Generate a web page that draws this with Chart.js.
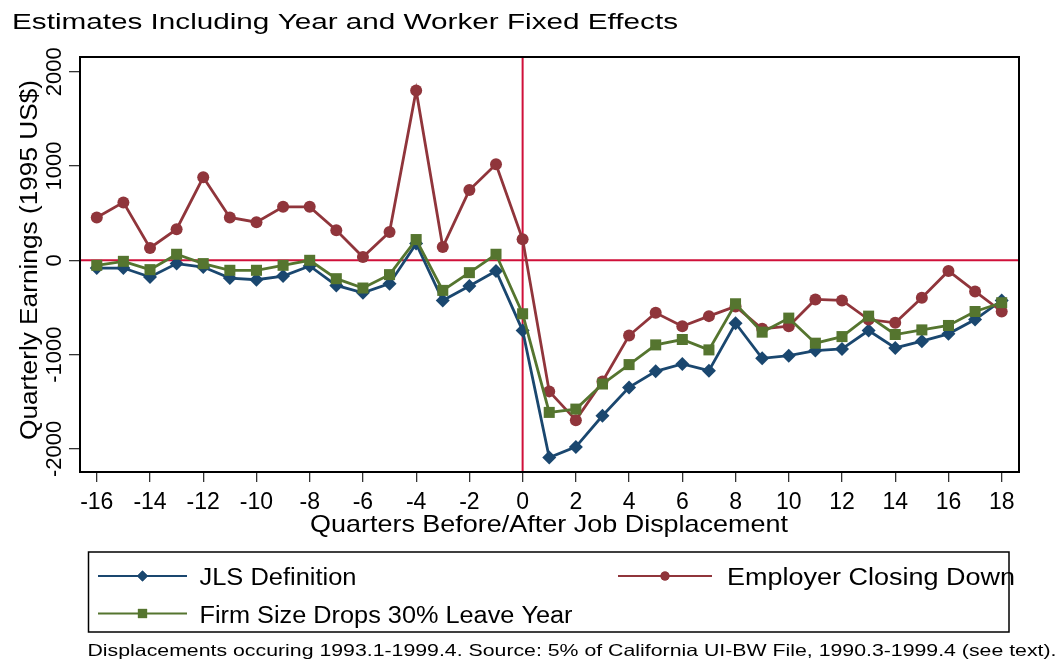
<!DOCTYPE html>
<html>
<head>
<meta charset="utf-8">
<script src="https://cdn.jsdelivr.net/npm/chart.js@4"></script>
<style>
  body { margin: 0; background: #fff; }
  #wrap { width: 1059px; height: 669px; }
</style>
</head>
<body>
<div id="wrap"><canvas id="chartCanvas" width="1059" height="669"></canvas></div>
<script>
const quarters = [-16, -15, -14, -13, -12, -11, -10, -9, -8, -7, -6, -5, -4, -3, -2, -1, 0,
                  1, 2, 3, 4, 5, 6, 7, 8, 9, 10, 11, 12, 13, 14, 15, 16, 17, 18];

const jls = [-82, -82, -177, -35, -71, -188, -206, -167, -60, -266, -344, -248, 177, -426, -273, -113, -745,
             -2092, -1979, -1649, -1348, -1177, -1099, -1170, -667, -1039, -1011, -957, -940, -745, -929, -858, -780, -628, -426];

const closing = [454, 614, 131, 330, 880, 454, 404, 567, 567, 319, 35, 301, 1801, 141, 745, 1018, 223,
                 -1390, -1695, -1284, -798, -557, -699, -592, -489, -727, -699, -415, -426, -628, -663, -397, -113, -330, -543];

const firmSize = [-53, -11, -99, 64, -35, -106, -106, -53, 0, -195, -294, -152, 220, -319, -131, 64, -567,
                  -1613, -1578, -1312, -1106, -897, -840, -950, -461, -762, -613, -879, -809, -592, -787, -738, -691, -543, -450];

const xTicks = [-16, -14, -12, -10, -8, -6, -4, -2, 0, 2, 4, 6, 8, 10, 12, 14, 16, 18];
const yTicks = [-2000, -1000, 0, 1000, 2000];

const titleText = "Estimates Including Year and Worker Fixed Effects";
const yTitle = "Quarterly Earnings (1995 US$)";
const xTitle = "Quarters Before/After Job Displacement";
const footText = "Displacements occuring 1993.1-1999.4. Source: 5% of California UI-BW File, 1990.3-1999.4 (see text).";

const BLUE = "#1a476f", RED = "#90353b", GREEN = "#55752f", REF = "#d0103a";
const FONT = '"Liberation Sans", Arial, sans-serif';

function pts(vals) {
    return quarters.map((q, i) => ({ x: q, y: vals[i] }));
}

// draw text at a given size, stretched/squeezed to a given width
function fitText(ctx, text, x, y, size, width) {
    ctx.font = size + "px " + FONT;
    const w0 = ctx.measureText(text).width;
    ctx.save();
    ctx.translate(x, y);
    ctx.scale(width / w0, 1);
    ctx.textAlign = "left";
    ctx.textBaseline = "alphabetic";
    ctx.fillText(text, 0, 0);
    ctx.restore();
}

function legendSample(ctx, x0, x1, y, color, style, r) {
    ctx.save();
    ctx.strokeStyle = color;
    ctx.lineWidth = 2;
    ctx.beginPath();
    ctx.moveTo(x0, y);
    ctx.lineTo(x1, y);
    ctx.stroke();
    ctx.fillStyle = color;
    Chart.helpers.drawPoint(ctx, { pointStyle: style, radius: r, rotation: 0, borderWidth: 0 }, (x0 + x1) / 2, y);
    ctx.fill();
    ctx.restore();
}

const decor = {
    id: "decor",
    beforeDatasetsDraw(chart) {
        const { ctx, chartArea: a, scales: { x, y } } = chart;
        ctx.save();
        ctx.strokeStyle = REF;
        ctx.lineWidth = 2;
        const y0 = y.getPixelForValue(0);
        const x0 = x.getPixelForValue(0);
        ctx.beginPath();
        ctx.moveTo(a.left, y0); ctx.lineTo(a.right, y0);
        ctx.moveTo(x0, a.top); ctx.lineTo(x0, a.bottom);
        ctx.stroke();
        ctx.restore();
    },
    afterDraw(chart) {
        const { ctx, chartArea: a, scales: { y } } = chart;
        ctx.save();
        // plot box
        ctx.strokeStyle = "#000";
        ctx.lineWidth = 2;
        ctx.strokeRect(a.left, a.top, a.right - a.left, a.bottom - a.top);

        ctx.fillStyle = "#000";
        // y tick labels, rotated
        ctx.font = "22px " + FONT;
        y.ticks.forEach(t => {
            const py = y.getPixelForValue(t.value);
            ctx.save();
            ctx.translate(61, py);
            ctx.rotate(-Math.PI / 2);
            ctx.textAlign = "center";
            ctx.textBaseline = "alphabetic";
            ctx.fillText(String(t.value), 0, 0);
            ctx.restore();
        });

        // titles
        fitText(ctx, titleText, 12, 28.5, 22.5, 666);
        fitText(ctx, xTitle, 310, 531.5, 24, 478);
        ctx.save();
        ctx.translate(37, 440);
        ctx.rotate(-Math.PI / 2);
        fitText(ctx, yTitle, 0, 0, 23.5, 360);
        ctx.restore();

        // legend
        ctx.strokeStyle = "#000";
        ctx.lineWidth = 1.5;
        ctx.strokeRect(88.5, 552, 920.5, 80);
        legendSample(ctx, 98, 187, 576, BLUE, "rectRot", 5.5);
        legendSample(ctx, 618, 712, 576, RED, "circle", 4.5);
        legendSample(ctx, 98, 187, 613.5, GREEN, "rect", 6.5);
        ctx.fillStyle = "#000";
        fitText(ctx, "JLS Definition", 199.5, 584.5, 23.5, 157);
        fitText(ctx, "Employer Closing Down", 727, 584.5, 23.5, 288);
        fitText(ctx, "Firm Size Drops 30% Leave Year", 199.5, 622.5, 23.5, 373);

        // note
        fitText(ctx, footText, 87.5, 655.5, 16.5, 969);
        ctx.restore();
    }
};

const ds = (label, vals, color, style, r, order) => ({
    label,
    data: pts(vals),
    borderColor: color,
    backgroundColor: color,
    pointBackgroundColor: color,
    pointBorderColor: color,
    pointBorderWidth: 0,
    pointStyle: style,
    pointRadius: r,
    pointHoverRadius: r,
    borderWidth: 2.8,
    tension: 0,
    order
});

new Chart(document.getElementById("chartCanvas"), {
    type: "line",
    data: {
        datasets: [
            ds("JLS Definition", jls, BLUE, "rectRot", 7, 3),
            ds("Employer Closing Down", closing, RED, "circle", 6, 2),
            ds("Firm Size Drops 30% Leave Year", firmSize, GREEN, "rect", 7.8, 1)
        ]
    },
    options: {
        responsive: false,
        animation: false,
        devicePixelRatio: 1,
        layout: { padding: { top: 57, right: 40, left: 0, bottom: 0 } },
        plugins: {
            legend: { display: false },
            tooltip: { enabled: false }
        },
        scales: {
            x: {
                type: "linear",
                min: -16.63,
                max: 18.65,
                afterBuildTicks: s => { s.ticks = xTicks.map(v => ({ value: v })); },
                afterFit: s => { s.height = 197; },
                ticks: {
                    color: "#000",
                    font: { family: FONT, size: 23 },
                    padding: 7,
                    maxRotation: 0,
                    autoSkip: false,
                    callback: v => String(v)
                },
                grid: { drawOnChartArea: false, drawTicks: true, tickLength: 10, color: "#333", lineWidth: 1.3 },
                border: { display: false }
            },
            y: {
                min: -2245,
                max: 2156,
                afterBuildTicks: s => { s.ticks = yTicks.map(v => ({ value: v })); },
                afterFit: s => { s.width = 80; },
                ticks: { display: false },
                grid: { drawOnChartArea: false, drawTicks: true, tickLength: 11, color: "#333", lineWidth: 1.3 },
                border: { display: false }
            }
        }
    },
    plugins: [decor]
});
</script>
</body>
</html>
